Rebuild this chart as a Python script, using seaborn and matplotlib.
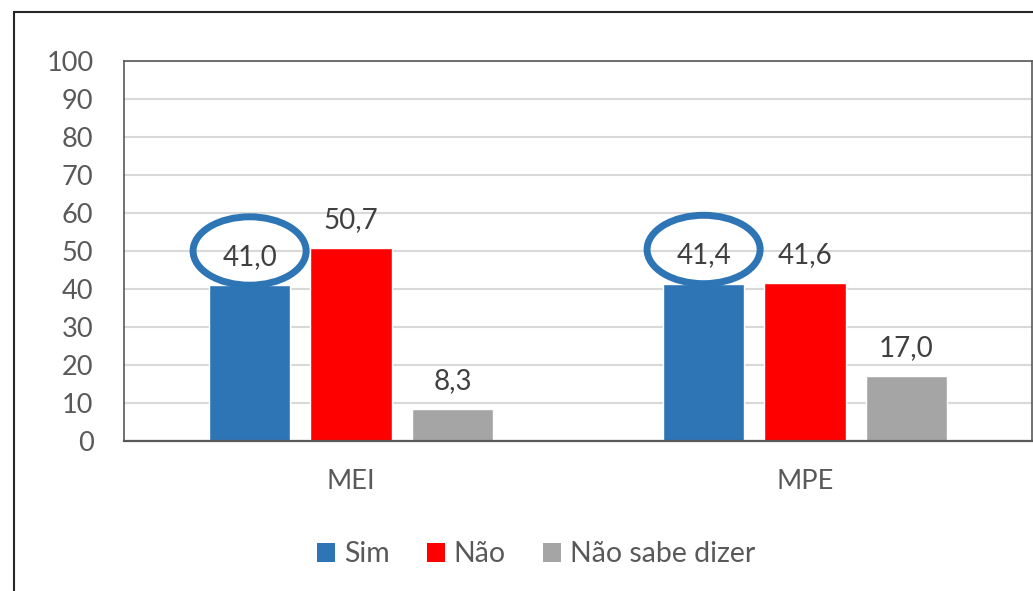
import pandas as pd
import seaborn as sns
import matplotlib.pyplot as plt
from matplotlib.patches import Ellipse, Rectangle, Patch

# dados
categorias = ["MEI", "MPE"]
respostas = ["Sim", "Não", "Não sabe dizer"]
sim = [41.0, 41.4]
nao = [50.7, 41.6]
nao_sabe = [8.3, 17.0]
cores = ["#2E75B6", "#FF0000", "#A5A5A5"]

def build_frame():
    rows = []
    for resp, vals in zip(respostas, [sim, nao, nao_sabe]):
        for cat, v in zip(categorias, vals):
            rows.append({"grupo": cat, "resposta": resp, "valor": v})
    return pd.DataFrame(rows)

def main():
    sns.set_theme(style="white")
    plt.rcParams['font.family'] = ['Lato', 'DejaVu Sans']

    df = build_frame()
    fig = plt.figure(figsize=(10.33, 5.91), dpi=100)
    ax = fig.add_axes([124 / 1033, 1 - 441 / 591, (1032 - 124) / 1033, (441 - 61) / 591])

    sns.barplot(data=df, x="grupo", y="valor", hue="resposta", hue_order=respostas,
                palette=cores, saturation=1, width=0.67, gap=0.2, ax=ax,
                legend=False, zorder=2)

    ax.set_ylim(0, 100)
    ax.set_xlim(-0.5, 1.5)
    ax.set_yticks(range(0, 101, 10))
    ax.yaxis.grid(True, color="#D9D9D9", linewidth=1.5)
    ax.set_axisbelow(True)
    ax.set_xlabel("")
    ax.set_ylabel("")
    for s in ax.spines.values():
        s.set_color("#595959")
        s.set_linewidth(1.2)
    ax.spines["bottom"].set_linewidth(1.6)
    ax.tick_params(axis="y", length=0, pad=22, labelsize=19.5, labelcolor="#595959")
    ax.tick_params(axis="x", length=0, pad=20, labelsize=19.5, labelcolor="#595959")

    # rótulos de dados com vírgula decimal
    for cont in ax.containers:
        labels = [f"{b.get_height():.1f}".replace(".", ",") for b in cont]
        ax.bar_label(cont, labels=labels, padding=11, fontsize=20, color="#404040")

    # elipses destacando "Sim"
    for b in ax.containers[0]:
        cx = b.get_x() + b.get_width() / 2
        cy = b.get_height() + 9
        ax.add_patch(Ellipse((cx, cy), 0.249, 18, fill=False, ec="#2E75B6",
                             lw=5, zorder=5, clip_on=False))

    handles = [Patch(facecolor=c, edgecolor="none", label=r) for c, r in zip(cores, respostas)]
    fig.legend(handles=handles, loc="center", bbox_to_anchor=(0.519, 0.062), ncol=3,
               frameon=False, fontsize=20.5, handlelength=0.65, handleheight=0.65,
               handletextpad=0.3, columnspacing=1.3, labelcolor="#595959")

    # moldura externa
    fig.patches.append(Rectangle((14 / 1033, -0.1), 1.2, 1 - 12 / 591 + 0.1,
                                 transform=fig.transFigure, fill=False,
                                 ec="#262626", lw=1.5))

    fig.savefig("out.png", dpi=100)

if __name__ == "__main__":
    main()
